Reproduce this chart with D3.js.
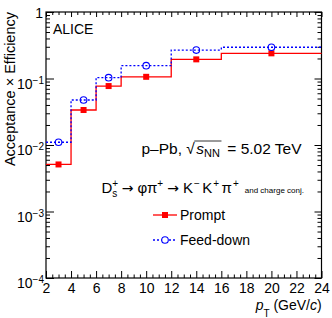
<!DOCTYPE html>
<html>
<head>
<meta charset="utf-8">
<script src="https://cdn.jsdelivr.net/npm/d3@7"></script>
<style>
  body { margin: 0; background: #fff; }
  text { font-family: "Liberation Sans", Arial, Helvetica, sans-serif; fill: #000; white-space: pre; }
</style>
</head>
<body>
<svg id="chart"></svg>
<script>
// pT bins (GeV/c) and acceptance x efficiency per bin
const ptEdges = [2, 4, 6, 8, 12, 16, 24];
const ptCentres = [3, 5, 7, 10, 14, 20];
const prompt = [0.0051, 0.0336, 0.077, 0.106, 0.194, 0.239];
const feedDown = [0.011, 0.0475, 0.103, 0.156, 0.268, 0.295];
const yDecades = [1e-4, 1e-3, 1e-2, 1e-1, 1];
const xMajor = [2, 4, 6, 8, 10, 12, 14, 16, 18, 20, 22, 24];

const width = 332, height = 318;
const margin = { top: 12, right: 10.5, bottom: 40, left: 46 };
const RED = '#ff0000', BLUE = '#0000ff';

const svg = d3.select('#chart').attr('width', width).attr('height', height);

const x = d3.scaleLinear().domain([2, 24]).range([margin.left, width - margin.right]);
const y = d3.scaleLog().domain([1e-4, 1]).range([height - margin.bottom, margin.top]);

const xMinor = d3.range(2, 24.01, 0.5).filter(v => v % 2 !== 0);
const yMinor = [];
yDecades.slice(0, -1).forEach(d => { for (let k = 2; k <= 9; k++) yMinor.push(d * k); });

// axes, ticks pointing inward like ROOT
const yB = y.range()[0], xR = x.range()[1];
svg.append('g').attr('transform', `translate(0,${yB})`)
  .call(d3.axisBottom(x).tickValues(xMinor).tickSize(-3.5).tickFormat(''));
const axBottom = svg.append('g').attr('transform', `translate(0,${yB})`)
  .call(d3.axisBottom(x).tickValues(xMajor).tickSize(-7).tickPadding(6).tickFormat(d3.format('d')));

svg.append('g').attr('transform', `translate(0,${margin.top})`)
  .call(d3.axisTop(x).tickValues(xMinor).tickSize(-3).tickFormat(''));
svg.append('g').attr('transform', `translate(0,${margin.top})`)
  .call(d3.axisTop(x).tickValues(xMajor).tickSize(-5).tickFormat(''));

svg.append('g').attr('transform', `translate(${margin.left},0)`)
  .call(d3.axisLeft(y).tickValues(yMinor).tickSize(-4).tickFormat(''));
const axLeft = svg.append('g').attr('transform', `translate(${margin.left},0)`)
  .call(d3.axisLeft(y).tickValues(yDecades).tickSize(-8).tickPadding(3));

svg.append('g').attr('transform', `translate(${xR},0)`)
  .call(d3.axisRight(y).tickValues(yMinor).tickSize(-4).tickFormat(''));
svg.append('g').attr('transform', `translate(${xR},0)`)
  .call(d3.axisRight(y).tickValues(yDecades).tickSize(-7).tickFormat(''));

svg.selectAll('.domain').remove();
svg.selectAll('.tick line').attr('stroke', '#000').attr('stroke-width', 1);
axBottom.selectAll('.tick text').attr('font-size', 14).attr('dy', null).attr('y', 15.3)
  .style('font-family', '"Liberation Sans", Arial, sans-serif');

// y labels as 10^k
axLeft.selectAll('.tick text').each(function (d) {
  const t = d3.select(this).text('').attr('font-size', 14).attr('dy', null)
    .style('font-family', '"Liberation Sans", Arial, sans-serif');
  const e = Math.round(Math.log10(d));
  if (e === 0) { t.attr('y', 5).attr('x', -3).text('1'); return; }
  t.attr('x', -2).attr('y', 9.5);
  t.append('tspan').text('10');
  t.append('tspan').attr('font-size', 10).attr('dy', -5).text('\u2212' + (-e));
});

// frame
svg.append('rect')
  .attr('x', x.range()[0]).attr('y', y.range()[1])
  .attr('width', xR - x.range()[0]).attr('height', yB - y.range()[1])
  .attr('fill', 'none').attr('stroke', '#000').attr('stroke-width', 1.2);

// step histograms
const step = d3.line().x(d => x(d[0])).y(d => y(d[1])).curve(d3.curveStepAfter);
const stepPts = vals => ptEdges.map((e, i) => [e, vals[Math.min(i, vals.length - 1)]]);

svg.append('path').datum(stepPts(prompt))
  .attr('fill', 'none').attr('stroke', RED).attr('stroke-width', 1.3).attr('d', step);
svg.append('path').datum(stepPts(feedDown))
  .attr('fill', 'none').attr('stroke', BLUE).attr('stroke-width', 1.3)
  .attr('stroke-dasharray', '2,2').attr('d', step);

svg.append('g').selectAll('rect').data(prompt).join('rect')
  .attr('x', (d, i) => x(ptCentres[i]) - 3).attr('y', d => y(d) - 3)
  .attr('width', 6).attr('height', 6).attr('fill', RED);
svg.append('g').selectAll('circle').data(feedDown).join('circle')
  .attr('cx', (d, i) => x(ptCentres[i])).attr('cy', d => y(d)).attr('r', 3.3)
  .attr('fill', 'none').attr('stroke', BLUE).attr('stroke-width', 1.1);

// text helper: runs of text placed one after another, with optional stacked sup/sub
function rich(g, x0, y0, parts) {
  let cx = x0;
  const put = (p, px) => g.append('text').attr('x', px).attr('y', y0 + (p.dy || 0))
    .attr('font-size', p.size || 14).attr('font-style', p.italic ? 'italic' : null)
    .style('font-family', p.font || null).text(p.t);
  parts.forEach(p => {
    if (p.gap) { cx += p.gap; return; }
    if (p.stack) {
      cx += d3.max(p.stack.map(s => put(s, cx).node().getComputedTextLength()));
    } else {
      const t = put(p, cx);
      const w = t.node().getComputedTextLength();
      if (p.mark) p.mark(cx, cx + w);
      cx += w;
    }
  });
  return cx;
}

const notes = svg.append('g');
notes.append('text').attr('x', 53).attr('y', 33.5).attr('font-size', 14).text('ALICE');

// p-Pb, sqrt(s_NN) = 5.02 TeV
let barStart = 0, barEnd = 0;
rich(notes, 141.5, 154, [
  { t: 'p\u2013Pb, ', size: 15.5 },
  { t: '\u221A', size: 15.5, mark: (a, b) => { barStart = b - 0.5; } },
  { gap: 1.5 },
  { t: 's', size: 15.5, italic: true },
  { t: 'NN', size: 11, dy: 3, mark: (a, b) => { barEnd = b + 1.5; } },
  { gap: 3 },
  { t: ' = 5.02 TeV', size: 15.5 }
]);
notes.append('line').attr('x1', barStart).attr('x2', barEnd)
  .attr('y1', 141).attr('y2', 141).attr('stroke', '#000').attr('stroke-width', 0.8);

const arrowFont = '"DejaVu Sans", sans-serif';
const sup = (t) => ({ t, size: 10, dy: -6.5 });
rich(notes, 101.5, 193, [
  { t: 'D', size: 15 },
  { stack: [sup('+'), { t: 's', size: 10, dy: 3.5 }] },
  { gap: 3.5 },
  { t: '\u2192', size: 14, font: arrowFont },
  { gap: 4 },
  { t: '\u03C6\u03C0', size: 15 },
  sup('+'),
  { gap: 4 },
  { t: '\u2192', size: 14, font: arrowFont },
  { gap: 4 },
  { t: 'K', size: 15 },
  { gap: 1 }, sup('\u2212'), { gap: 2.5 },
  { t: 'K', size: 15 },
  { gap: 1 }, sup('+'), { gap: 2.5 },
  { t: '\u03C0', size: 15 },
  { gap: 1 }, sup('+'),
  { gap: 6 },
  { t: 'and charge conj.', size: 8 }
]);

// legend
const legend = svg.append('g');
legend.append('line').attr('x1', 153).attr('x2', 177).attr('y1', 215).attr('y2', 215)
  .attr('stroke', RED).attr('stroke-width', 1.3);
legend.append('rect').attr('x', 162).attr('y', 212).attr('width', 6).attr('height', 6).attr('fill', RED);
legend.append('text').attr('x', 180).attr('y', 220).attr('font-size', 14).text('Prompt');
legend.append('line').attr('x1', 153).attr('x2', 177).attr('y1', 240).attr('y2', 240)
  .attr('stroke', BLUE).attr('stroke-width', 1.3).attr('stroke-dasharray', '2,2');
legend.append('circle').attr('cx', 165).attr('cy', 240).attr('r', 3.3)
  .attr('fill', '#fff').attr('stroke', BLUE).attr('stroke-width', 1.1);
legend.append('text').attr('x', 180).attr('y', 245).attr('font-size', 14).text('Feed-down');

// axis titles
const xt = svg.append('g');
const xw = rich(xt, 0, 310, [
  { t: 'p', size: 14, italic: true },
  { t: 'T', size: 10, dy: 6.5 },
  { t: ' (GeV/', size: 14 },
  { t: 'c', size: 14, italic: true },
  { t: ')', size: 14 }
]);
xt.attr('transform', `translate(${width - 10.3 - xw},0)`);

svg.append('text')
  .attr('transform', `translate(14.5,${margin.top}) rotate(-90)`)
  .attr('text-anchor', 'end').attr('font-size', 14.5)
  .text('Acceptance \u00D7 Efficiency');
</script>
</body>
</html>
